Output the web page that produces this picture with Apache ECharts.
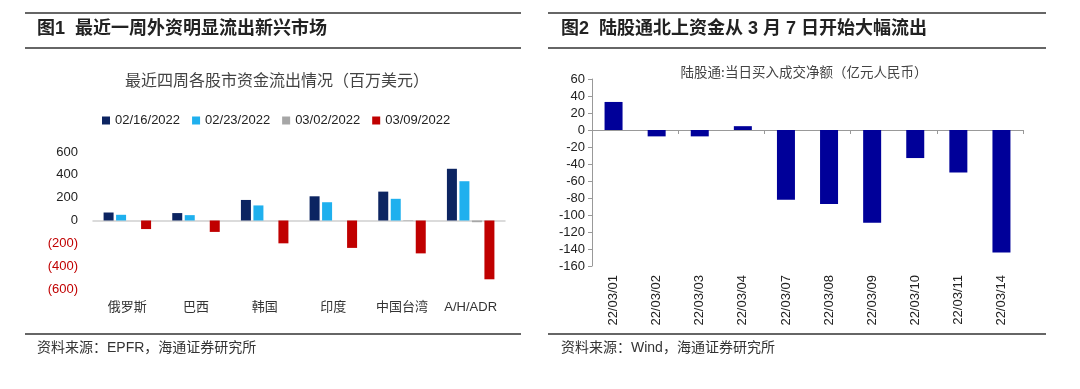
<!DOCTYPE html>
<html><head><meta charset="utf-8">
<script src="https://cdn.jsdelivr.net/npm/echarts@6/dist/echarts.min.js"></script>
<style>html,body{margin:0;padding:0;background:#fff}#c{width:1080px;height:389px}</style>
</head><body><div id="c"></div>
<script>
// Left chart data
var leftCategories = ['俄罗斯','巴西','韩国','印度','中国台湾','A/H/ADR'];
var leftSeriesNames = ['02/16/2022','02/23/2022','03/02/2022','03/09/2022'];
var s0216 = [70, 65, 180, 212, 253, 453];
var s0223 = [50, 47, 132, 160, 190, 344];
var s0302 = [0, 0, 0, 0, -4, -15];
var s0309 = [-75, -100, -200, -240, -288, -515];
var leftTicks = {min: -600, max: 600, interval: 200};
// Right chart data
var rightCategories = ['22/03/01','22/03/02','22/03/03','22/03/04','22/03/07','22/03/08','22/03/09','22/03/10','22/03/11','22/03/14'];
var rightValues = [33, -7.5, -7.5, 4.5, -82, -87, -109, -33, -50, -144];
var rightTicks = {min: -160, max: 60, interval: 20};

var CJK = '"Noto Sans CJK SC", sans-serif';
var LAT = '"Liberation Sans", Arial, sans-serif';
var MIX = '"Liberation Sans", "Noto Sans CJK SC", sans-serif';
var colors = ['#0c2461', '#1fb0ee', '#a6a6a6', '#c00000'];

var chart = echarts.init(document.getElementById('c'));
var leftSeries = [s0216, s0223, s0302, s0309].map(function (d, i) {
  return {
    name: leftSeriesNames[i], type: 'bar', data: d, xAxisIndex: 0, yAxisIndex: 0,
    barWidth: 10, barGap: '25%', itemStyle: {color: colors[i]}, silent: true
  };
});
var option = {
  animation: false,
  title: [
    {text: '最近四周各股市资金流出情况（百万美元）', left: 272, top: 67, textAlign: 'center',
     textStyle: {fontFamily: CJK, fontSize: 16, fontWeight: 'normal', color: '#444'}},
    {text: '陆股通:当日买入成交净额（亿元人民币）', left: 799, top: 60, textAlign: 'center',
     textStyle: {fontFamily: CJK, fontSize: 13.5, fontWeight: 'normal', color: '#444'}}
  ],
  legend: {
    data: leftSeriesNames, left: 97, top: 109, itemWidth: 8, itemHeight: 8, itemGap: 12,
    icon: 'rect', textStyle: {fontFamily: LAT, fontSize: 13, color: '#222'}
  },
  grid: [
    {left: 93, top: 152, width: 412, height: 137},
    {left: 592, top: 79, width: 431, height: 187}
  ],
  xAxis: [
    {gridIndex: 0, type: 'category', data: leftCategories, position: 'bottom',
     axisLine: {show: false, onZero: false}, axisTick: {show: false},
     axisLabel: {fontFamily: MIX, fontSize: 13, color: '#333', margin: 12}},
    {gridIndex: 0, type: 'category', data: leftCategories, position: 'bottom',
     axisLine: {show: true, onZero: true, lineStyle: {color: '#d0d0d0', width: 1.5}},
     axisTick: {show: false}, axisLabel: {show: false}},
    {gridIndex: 1, type: 'category', data: rightCategories, position: 'bottom',
     axisLine: {show: false, onZero: false}, axisTick: {show: false},
     axisLabel: {fontFamily: LAT, fontSize: 13, color: '#222', rotate: 90, margin: 9}},
    {gridIndex: 1, type: 'category', data: rightCategories, position: 'bottom',
     axisLine: {show: true, onZero: true, lineStyle: {color: '#999', width: 1}},
     axisTick: {show: true, length: 4, lineStyle: {color: '#999'}}, axisLabel: {show: false}}
  ],
  yAxis: [
    {gridIndex: 0, type: 'value', min: leftTicks.min, max: leftTicks.max, interval: leftTicks.interval,
     axisLine: {show: false}, axisTick: {show: false}, splitLine: {show: false},
     axisLabel: {fontFamily: LAT, fontSize: 13, margin: 15,
       color: function (v) { return Number(v) < 0 ? '#c00000' : '#222'; },
       formatter: function (v) { return v < 0 ? '(' + Math.abs(v) + ')' : String(v); }}},
    {gridIndex: 1, type: 'value', min: rightTicks.min, max: rightTicks.max, interval: rightTicks.interval,
     axisLine: {show: true, lineStyle: {color: '#999'}}, axisTick: {show: true, length: 4, lineStyle: {color: '#999'}},
     splitLine: {show: false},
     axisLabel: {fontFamily: LAT, fontSize: 13, color: '#222', margin: 7}}
  ],
  series: leftSeries.concat([
    {name: 'north', type: 'bar', data: rightValues, xAxisIndex: 2, yAxisIndex: 1,
     barWidth: 18, itemStyle: {color: '#000099'}, silent: true}
  ]),
  graphic: [
    {type: 'line', shape: {x1: 25, y1: 13, x2: 521, y2: 13}, style: {stroke: '#333', lineWidth: 1.5}},
    {type: 'line', shape: {x1: 25, y1: 48, x2: 521, y2: 48}, style: {stroke: '#333', lineWidth: 1.5}},
    {type: 'line', shape: {x1: 25, y1: 334, x2: 521, y2: 334}, style: {stroke: '#333', lineWidth: 1.5}},
    {type: 'line', shape: {x1: 548, y1: 13, x2: 1046, y2: 13}, style: {stroke: '#333', lineWidth: 1.5}},
    {type: 'line', shape: {x1: 548, y1: 48, x2: 1046, y2: 48}, style: {stroke: '#333', lineWidth: 1.5}},
    {type: 'line', shape: {x1: 548, y1: 334, x2: 1046, y2: 334}, style: {stroke: '#333', lineWidth: 1.5}},
    {type: 'text', left: 37, top: 20, style: {text: '图1  最近一周外资明显流出新兴市场', font: 'bold 18px ' + MIX, fill: '#222'}},
    {type: 'text', left: 561, top: 20, style: {text: '图2  陆股通北上资金从 3 月 7 日开始大幅流出', font: 'bold 18px ' + MIX, fill: '#222'}},
    {type: 'text', left: 37, top: 341, style: {text: '资料来源：EPFR，海通证券研究所', font: '14px ' + MIX, fill: '#333'}},
    {type: 'text', left: 561, top: 341, style: {text: '资料来源：Wind，海通证券研究所', font: '14px ' + MIX, fill: '#333'}}
  ]
};
chart.setOption(option);
</script>
</body></html>
